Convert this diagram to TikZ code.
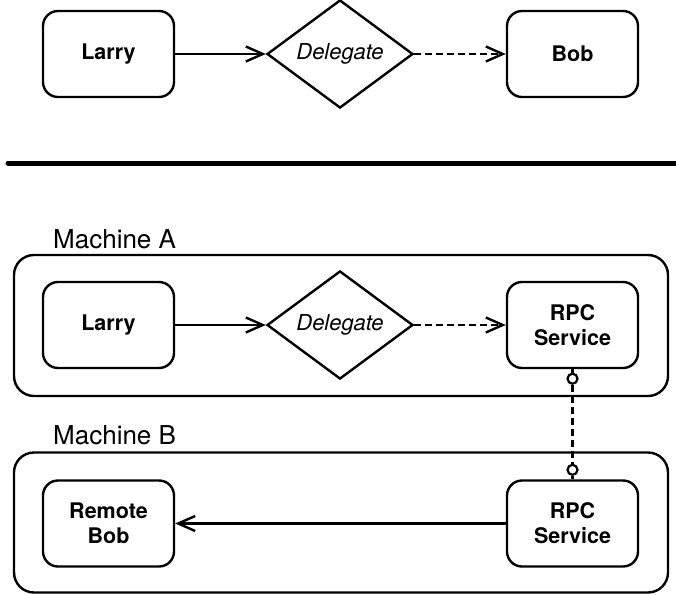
\documentclass[tikz,border=0pt]{standalone}
\usepackage{fontspec}
\setmainfont{TeX Gyre Heros}
\usetikzlibrary{shapes.geometric,arrows.meta,calc}

\begin{document}
\begin{tikzpicture}[x=1pt,y=-1pt,
  line width=2.4pt,
  actor/.style={draw, rounded corners=15pt, minimum width=131pt, minimum height=86pt,
    inner sep=0pt, align=center, font=\fontsize{21.5}{25}\selectfont\bfseries},
  choice/.style={draw, diamond, inner sep=0pt, minimum width=146pt, minimum height=95pt,
    font=\fontsize{22}{25}\selectfont\itshape},
  machine/.style={draw, rounded corners=20pt, inner sep=0pt},
  caption/.style={anchor=base west, inner sep=0pt, font=\fontsize{26}{30}\selectfont},
  port/.style={draw, circle, inner sep=0pt, minimum size=10pt, line width=2.2pt, fill=white},
  call/.style={-{Straight Barb[length=17pt,width=15pt,line width=2.4pt]}},
  handoff/.style={call, dash pattern=on 7pt off 4pt},
  link/.style={dash pattern=on 7pt off 4pt}
]
\useasboundingbox (0,0) rectangle (676,594);

% --- direct delegation ---
\node[actor]  (larryT) at (108.5,54) {Larry};
\node[choice] (delT)   at (340,54)   {Delegate};
\node[actor]  (bobT)   at (572.5,54) {Bob};
\draw[call]    (larryT) -- (delT);
\draw[handoff] (delT) -- (bobT);

% --- separator ---
\coordinate (sepL) at (8,163);
\coordinate (sepR) at (680,163);
\draw[line width=5pt, line cap=round] (sepL) -- (sepR);

% --- Machine A ---
\node[machine, minimum width=654pt, minimum height=141pt] (machA) at (341,325.5) {};
\node[caption] (capA) at (52,248) {Machine A};
\node[actor]  (larryA) at (108.5,325) {Larry};
\node[choice] (delA)   at (340,325)   {Delegate};
\node[actor]  (rpcA)   at (572.5,325) {RPC\\Service};
\draw[call]    (larryA) -- (delA);
\draw[handoff] (delA) -- (rpcA);

% --- Machine B ---
\node[machine, minimum width=654pt, minimum height=140pt] (machB) at (341,522.5) {};
\node[caption] (capB) at (52,444) {Machine B};
\node[actor] (rbob) at (108.5,523.5) {Remote\\Bob};
\node[actor] (rpcB) at (572.5,523.5) {RPC\\Service};
\draw[call] (rpcB) -- (rbob);

% --- RPC link between the two services ---
\node[port] (portA) at ($(rpcA.south)+(0,9.5)$) {};
\node[port] (portB) at ($(rpcB.north)+(0,-9.5)$) {};
\draw (rpcA.south) -- (portA);
\draw (portB) -- (rpcB.north);
\draw[link] (portA) -- (portB);
\end{tikzpicture}
\end{document}
